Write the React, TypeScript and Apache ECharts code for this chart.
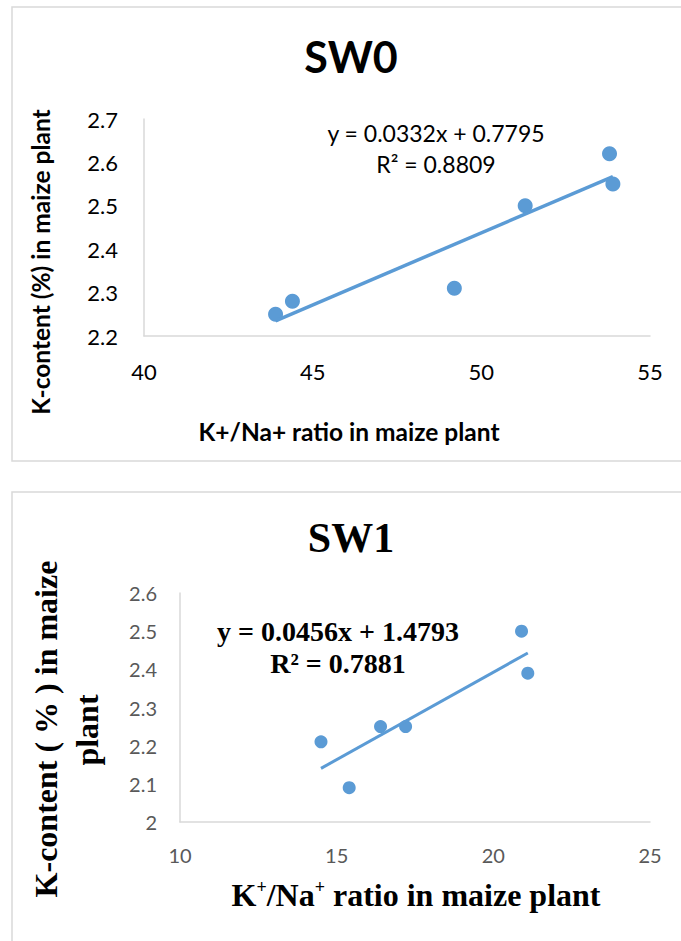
import React, { useEffect, useRef } from 'react';
import * as echarts from 'echarts';

// SW0 panel data
const sw0X = [43.9, 44.4, 49.2, 51.3, 53.8, 53.9];
const sw0Y = [2.25, 2.28, 2.31, 2.5, 2.62, 2.55];
// SW1 panel data
const sw1X = [14.5, 15.4, 16.4, 17.2, 20.9, 21.1];
const sw1Y = [2.21, 2.09, 2.25, 2.25, 2.5, 2.39];

const sw0Title = 'SW0';
const sw1Title = 'SW1';
const sw0Eq = ['y = 0.0332x + 0.7795', 'R² = 0.8809'];
const sw1Eq = ['y = 0.0456x + 1.4793', 'R² = 0.7881'];

const BLUE = '#5b9bd5';
const SANS = "Lato, 'Liberation Sans', sans-serif";
const SERIF = "'Liberation Serif', 'Times New Roman', serif";

function fitLine(xs: number[], ys: number[]) {
  const n = xs.length;
  const mx = xs.reduce((a, b) => a + b, 0) / n;
  const my = ys.reduce((a, b) => a + b, 0) / n;
  let sxy = 0;
  let sxx = 0;
  for (let i = 0; i < n; i++) {
    sxy += (xs[i] - mx) * (ys[i] - my);
    sxx += (xs[i] - mx) * (xs[i] - mx);
  }
  const b = sxy / sxx;
  const a = my - b * mx;
  const x0 = Math.min(...xs);
  const x1 = Math.max(...xs);
  return [
    [x0, a + b * x0],
    [x1, a + b * x1],
  ];
}

export default function App() {
  const ref = useRef<HTMLDivElement>(null);
  useEffect(() => {
    const chart = echarts.init(ref.current!, null, { renderer: 'svg' });
    const axisLine = { show: true, lineStyle: { color: '#d9d9d9', width: 1.5 } };
    const fmt = (v: number) => String(Number(v.toFixed(1)));
    const option: any = {
      animation: false,
      backgroundColor: '#ffffff',
      grid: [
        { left: 144, top: 119, width: 506, height: 217 },
        { left: 180, top: 593, width: 470, height: 229 },
      ],
      xAxis: [
        {
          type: 'value', gridIndex: 0, min: 40, max: 55, interval: 5,
          axisLine, axisTick: { show: false }, splitLine: { show: false },
          axisLabel: { fontSize: 22, fontFamily: SANS, color: '#000', margin: 24, formatter: fmt },
        },
        {
          type: 'value', gridIndex: 1, min: 10, max: 25, interval: 5,
          axisLine, axisTick: { show: false }, splitLine: { show: false },
          axisLabel: { fontSize: 20, fontFamily: SANS, color: '#595959', margin: 23, formatter: fmt },
        },
      ],
      yAxis: [
        {
          type: 'value', gridIndex: 0, min: 2.2, max: 2.7, interval: 0.1,
          axisLine, axisTick: { show: false }, splitLine: { show: false },
          axisLabel: { fontSize: 22, fontFamily: SANS, color: '#000', margin: 26, formatter: fmt },
        },
        {
          type: 'value', gridIndex: 1, min: 2, max: 2.6, interval: 0.1,
          axisLine, axisTick: { show: false }, splitLine: { show: false },
          axisLabel: { fontSize: 20, fontFamily: SANS, color: '#595959', margin: 23, formatter: fmt },
        },
      ],
      series: [
        {
          type: 'scatter', xAxisIndex: 0, yAxisIndex: 0, symbolSize: 15,
          itemStyle: { color: BLUE, opacity: 1 },
          data: sw0X.map((x, i) => [x, sw0Y[i]]), z: 2,
        },
        {
          type: 'line', xAxisIndex: 0, yAxisIndex: 0, showSymbol: false, symbol: 'none',
          lineStyle: { color: BLUE, width: 3.5 }, data: fitLine(sw0X, sw0Y), z: 3,
        },
        {
          type: 'scatter', xAxisIndex: 1, yAxisIndex: 1, symbolSize: 13,
          itemStyle: { color: BLUE, opacity: 1 },
          data: sw1X.map((x, i) => [x, sw1Y[i]]), z: 2,
        },
        {
          type: 'line', xAxisIndex: 1, yAxisIndex: 1, showSymbol: false, symbol: 'none',
          lineStyle: { color: BLUE, width: 3 }, data: fitLine(sw1X, sw1Y), z: 3,
        },
      ],
      graphic: [
        { type: 'rect', shape: { x: 12, y: 7, width: 700, height: 454 }, style: { fill: 'none', stroke: '#d9d9d9', lineWidth: 1.5 }, silent: true },
        { type: 'rect', shape: { x: 12, y: 492, width: 700, height: 480 }, style: { fill: 'none', stroke: '#d9d9d9', lineWidth: 1.5 }, silent: true },
        // SW0 texts
        { type: 'text', x: 351, y: 56, style: { text: sw0Title, fontSize: 43, fontWeight: 'bold', fontFamily: SANS, fill: '#000', align: 'center', verticalAlign: 'middle' } },
        { type: 'text', x: 436, y: 133, style: { text: sw0Eq[0], fontSize: 23, fontFamily: SANS, fill: '#000', align: 'center', verticalAlign: 'middle' } },
        { type: 'text', x: 436, y: 164, style: { text: sw0Eq[1], fontSize: 23, fontFamily: SANS, fill: '#000', align: 'center', verticalAlign: 'middle' } },
        { type: 'text', x: 349, y: 431, style: { text: 'K+/Na+ ratio in maize plant', fontSize: 24.5, fontWeight: 'bold', fontFamily: SANS, fill: '#000', align: 'center', verticalAlign: 'middle' } },
        { type: 'text', x: 40, y: 262, rotation: Math.PI / 2, style: { text: 'K-content (%) in maize plant', fontSize: 24.5, fontWeight: 'bold', fontFamily: SANS, fill: '#000', align: 'center', verticalAlign: 'middle' } },
        // SW1 texts
        { type: 'text', x: 351, y: 538, style: { text: sw1Title, fontSize: 42, fontWeight: 'bold', fontFamily: SERIF, fill: '#000', align: 'center', verticalAlign: 'middle' } },
        { type: 'text', x: 338, y: 631, style: { text: sw1Eq[0], fontSize: 28, fontWeight: 'bold', fontFamily: SERIF, fill: '#000', align: 'center', verticalAlign: 'middle' } },
        { type: 'text', x: 338, y: 663, style: { text: sw1Eq[1], fontSize: 28, fontWeight: 'bold', fontFamily: SERIF, fill: '#000', align: 'center', verticalAlign: 'middle' } },
        {
          type: 'text', x: 416, y: 895,
          style: {
            text: '{a|K}{s|+}{a|/Na}{s|+}{a| ratio in maize plant}',
            align: 'center', verticalAlign: 'middle', fill: '#000',
            rich: {
              a: { fontSize: 32, fontWeight: 'bold', fontFamily: SERIF, fill: '#000', lineHeight: 34, verticalAlign: 'middle' },
              s: { fontSize: 18, fontWeight: 'bold', fontFamily: SERIF, fill: '#000', lineHeight: 34, verticalAlign: 'top', padding: [0, 0, 14, 0] },
            },
          },
        },
        { type: 'text', x: 46, y: 729, rotation: Math.PI / 2, style: { text: 'K-content ( % ) in maize', fontSize: 32, fontWeight: 'bold', fontFamily: SERIF, fill: '#000', align: 'center', verticalAlign: 'middle' } },
        { type: 'text', x: 87, y: 730, rotation: Math.PI / 2, style: { text: 'plant', fontSize: 32, fontWeight: 'bold', fontFamily: SERIF, fill: '#000', align: 'center', verticalAlign: 'middle' } },
      ],
    };
    chart.setOption(option);
    return () => chart.dispose();
  }, []);
  return (
    <div
      ref={ref}
      style={{ position: 'absolute', left: 0, top: 0, width: 681, height: 941, background: '#fff' }}
    />
  );
}
